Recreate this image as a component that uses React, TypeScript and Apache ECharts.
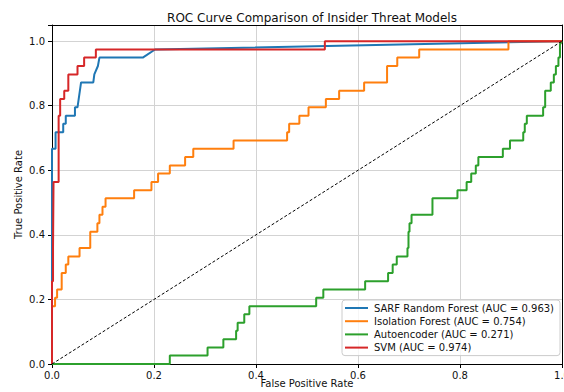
import React, { useEffect, useRef } from "react";
import * as echarts from "echarts";

const titleText = "ROC Curve Comparison of Insider Threat Models";
const xAxisName = "False Positive Rate";
const yAxisName = "True Positive Rate";
const xTicks = [0, 0.2, 0.4, 0.6, 0.8, 1.0];
const yTicks = [0, 0.2, 0.4, 0.6, 0.8, 1.0];

const seriesNames = [
  "SARF Random Forest (AUC = 0.963)",
  "Isolation Forest (AUC = 0.754)",
  "Autoencoder (AUC = 0.271)",
  "SVM (AUC = 0.974)",
];
const seriesColors = ["#1f77b4", "#ff7f0e", "#2ca02c", "#d62728"];

const sarfFpr = [0, 0, 0.007, 0.007, 0.022, 0.022, 0.027, 0.027, 0.045, 0.045, 0.05, 0.057, 0.081, 0.083, 0.09, 0.093, 0.178, 0.202, 1];
const sarfTpr = [0, 0.667, 0.667, 0.718, 0.718, 0.744, 0.744, 0.769, 0.769, 0.795, 0.795, 0.872, 0.872, 0.897, 0.923, 0.949, 0.949, 0.974, 1];

const isoFpr = [0, 0, 0, 0.006, 0.006, 0.01, 0.01, 0.019, 0.019, 0.027, 0.027, 0.032, 0.032, 0.054, 0.054, 0.075, 0.075, 0.089, 0.089, 0.093, 0.093, 0.099, 0.099, 0.105, 0.105, 0.161, 0.161, 0.195, 0.195, 0.208, 0.208, 0.231, 0.231, 0.261, 0.261, 0.277, 0.277, 0.356, 0.356, 0.461, 0.461, 0.465, 0.465, 0.485, 0.485, 0.503, 0.503, 0.537, 0.537, 0.563, 0.563, 0.612, 0.612, 0.657, 0.657, 0.677, 0.677, 0.72, 0.72, 0.895, 0.895, 1];
const isoTpr = [0, 0.154, 0.179, 0.179, 0.205, 0.205, 0.231, 0.231, 0.282, 0.282, 0.308, 0.308, 0.333, 0.333, 0.359, 0.359, 0.41, 0.41, 0.436, 0.436, 0.462, 0.462, 0.487, 0.487, 0.513, 0.513, 0.538, 0.538, 0.564, 0.564, 0.59, 0.59, 0.615, 0.615, 0.641, 0.641, 0.667, 0.667, 0.692, 0.692, 0.718, 0.718, 0.744, 0.744, 0.769, 0.769, 0.795, 0.795, 0.821, 0.821, 0.846, 0.846, 0.872, 0.872, 0.923, 0.923, 0.949, 0.949, 0.974, 0.974, 1, 1];

const aeFpr = [0, 0.231, 0.231, 0.305, 0.305, 0.336, 0.336, 0.361, 0.361, 0.364, 0.364, 0.377, 0.377, 0.387, 0.387, 0.518, 0.518, 0.532, 0.532, 0.614, 0.614, 0.659, 0.659, 0.668, 0.668, 0.676, 0.676, 0.697, 0.697, 0.699, 0.699, 0.701, 0.701, 0.705, 0.705, 0.746, 0.746, 0.795, 0.795, 0.813, 0.813, 0.822, 0.822, 0.831, 0.831, 0.836, 0.836, 0.884, 0.884, 0.898, 0.898, 0.924, 0.924, 0.927, 0.927, 0.931, 0.931, 0.963, 0.963, 0.967, 0.967, 0.978, 0.978, 0.984, 0.984, 0.988, 0.988, 0.993, 0.993, 0.996, 0.996, 1];
const aeTpr = [0, 0, 0.026, 0.026, 0.051, 0.051, 0.077, 0.077, 0.103, 0.103, 0.128, 0.128, 0.154, 0.154, 0.179, 0.179, 0.205, 0.205, 0.231, 0.231, 0.256, 0.256, 0.282, 0.282, 0.308, 0.308, 0.333, 0.333, 0.359, 0.359, 0.41, 0.41, 0.436, 0.436, 0.462, 0.462, 0.513, 0.513, 0.538, 0.538, 0.564, 0.564, 0.59, 0.59, 0.615, 0.615, 0.641, 0.641, 0.667, 0.667, 0.692, 0.692, 0.718, 0.718, 0.744, 0.744, 0.769, 0.769, 0.795, 0.795, 0.846, 0.846, 0.872, 0.872, 0.897, 0.897, 0.923, 0.923, 0.949, 0.949, 0.99, 1];

const svmFpr = [0, 0, 0.002, 0.002, 0.003, 0.003, 0.013, 0.013, 0.016, 0.016, 0.024, 0.024, 0.032, 0.032, 0.05, 0.05, 0.063, 0.063, 0.086, 0.086, 0.535, 0.535, 1];
const svmTpr = [0, 0.256, 0.256, 0.359, 0.359, 0.564, 0.564, 0.769, 0.769, 0.821, 0.821, 0.846, 0.846, 0.897, 0.897, 0.923, 0.923, 0.949, 0.949, 0.974, 0.974, 1, 1];

const chanceX = [0, 1];
const chanceY = [0, 1];

const zip = (xs: number[], ys: number[]) => xs.map((x, i) => [x, ys[i]]);

const FONT = "DejaVu Sans";

export default function App() {
  const ref = useRef<HTMLDivElement>(null);
  useEffect(() => {
    if (!ref.current) return;
    const chart = echarts.init(ref.current, undefined, { renderer: "svg" });
    const curves = [
      zip(sarfFpr, sarfTpr),
      zip(isoFpr, isoTpr),
      zip(aeFpr, aeTpr),
      zip(svmFpr, svmTpr),
    ];
    const lineSeries = curves.map((data, i) => ({
      name: seriesNames[i],
      type: "line",
      data,
      showSymbol: false,
      symbol: "none",
      lineStyle: { color: seriesColors[i], width: 2 },
      itemStyle: { color: seriesColors[i] },
      z: 2 + i,
    }));
    chart.setOption({
      animation: false,
      backgroundColor: "#ffffff",
      title: {
        text: titleText,
        left: 307,
        textAlign: "center",
        top: 7,
        textStyle: { fontFamily: FONT, fontSize: 12, fontWeight: "normal", color: "#111" },
      },
      grid: { left: 52, right: 2, top: 25, bottom: 28, containLabel: false, outerBoundsMode: "none" },
      legend: {
        data: seriesNames,
        orient: "vertical",
        left: 342,
        top: 300,
        padding: [3, 6, 3, 3],
        itemWidth: 23,
        itemHeight: 2,
        itemGap: 3.2,
        icon: "rect",
        backgroundColor: "rgba(255,255,255,0.8)",
        borderColor: "#cccccc",
        borderWidth: 1,
        borderRadius: 3,
        textStyle: { fontFamily: FONT, fontSize: 10, color: "#111", padding: [0, 0, 0, 1] },
      },
      xAxis: [
        {
          type: "value",
          min: 0,
          max: 1,
          interval: 0.2,
          name: xAxisName,
          nameLocation: "middle",
          nameGap: 14.5,
          nameMoveOverlap: false,
          nameTextStyle: { fontFamily: FONT, fontSize: 10, color: "#111" },
          axisLine: { show: true, onZero: false, lineStyle: { color: "#000", width: 1 } },
          axisTick: { show: true, length: 4, lineStyle: { color: "#000" } },
          axisLabel: {
            margin: 6,
            fontFamily: FONT,
            fontSize: 10,
            color: "#111",
            formatter: (v: number) => (xTicks.some((t) => Math.abs(t - v) < 1e-6) ? v.toFixed(1) : ""),
          },
          splitLine: { show: true, lineStyle: { color: "#d3d3d3", width: 1 } },
        },
        {
          type: "value",
          min: 0,
          max: 1,
          position: "top",
          axisLine: { show: true, onZero: false, lineStyle: { color: "#000", width: 1 } },
          axisTick: { show: false },
          axisLabel: { show: false },
          splitLine: { show: false },
        },
      ],
      yAxis: [
        {
          type: "value",
          min: 0,
          max: 1.05,
          interval: 0.2,
          name: yAxisName,
          nameLocation: "middle",
          nameGap: 29,
          nameMoveOverlap: false,
          nameTextStyle: { fontFamily: FONT, fontSize: 10, color: "#111" },
          axisLine: { show: true, onZero: false, lineStyle: { color: "#000", width: 1 } },
          axisTick: { show: true, length: 4, lineStyle: { color: "#000" } },
          axisLabel: {
            margin: 7,
            fontFamily: FONT,
            fontSize: 10,
            color: "#111",
            formatter: (v: number) => (yTicks.some((t) => Math.abs(t - v) < 1e-6) ? v.toFixed(1) : ""),
          },
          splitLine: { show: true, lineStyle: { color: "#d3d3d3", width: 1 } },
        },
        {
          type: "value",
          min: 0,
          max: 1.05,
          position: "right",
          axisLine: { show: true, onZero: false, lineStyle: { color: "#000", width: 1 } },
          axisTick: { show: false },
          axisLabel: { show: false },
          splitLine: { show: false },
        },
      ],
      series: [
        ...lineSeries,
        {
          name: "chance",
          type: "line",
          data: zip(chanceX, chanceY),
          showSymbol: false,
          symbol: "none",
          lineStyle: { color: "#000", width: 1, type: [3, 2] },
          z: 10,
        },
      ],
    });
    return () => chart.dispose();
  }, []);
  return (
    <div
      ref={ref}
      style={{ position: "absolute", left: 0, top: 0, width: 564, height: 392 }}
    />
  );
}
